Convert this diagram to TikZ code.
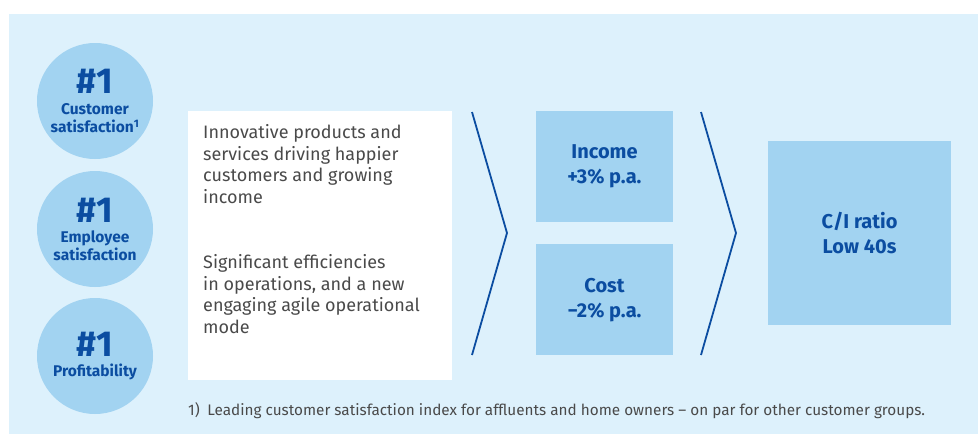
\documentclass[tikz,border=0pt]{standalone}
\usepackage{fontspec}
\setmainfont{Fira Sans}
\usepackage{xcolor}
\usetikzlibrary{positioning}
\definecolor{bgblue}{HTML}{DDF1FC}
\definecolor{midblue}{HTML}{A2D3F1}
\definecolor{darkblue}{HTML}{0B4DA1}
\definecolor{bodygray}{HTML}{4A4A4A}

\begin{document}
\begin{tikzpicture}[
    x=1pt, y=-1pt,
    node distance=11pt,
    goal/.style={circle, fill=midblue, minimum size=116pt, inner sep=0pt, align=center, text=darkblue, font=\fontsize{15.5}{18}\selectfont\bfseries},
    kpi/.style={rectangle, fill=midblue, inner sep=0pt, align=center, text=darkblue, font=\fontsize{20}{25}\selectfont\bfseries},
    lever/.style={inner sep=0pt, align=left, anchor=base west, text=bodygray, font=\fontsize{18}{21.5}\selectfont},
    chev/.style={draw=darkblue, line width=1.8pt},
]
    \useasboundingbox (0,0) rectangle (978,434);
    \fill[bgblue] (9,14) rectangle (978,434);

    \node[goal] (cust) at (95,101) {{\fontsize{36}{32}\selectfont\#1}\\[3pt]Customer\\satisfaction\textsuperscript{1}};
    \node[goal] (empl) at (95,229) {{\fontsize{36}{32}\selectfont\#1}\\[2pt]Employee\\satisfaction};
    \node[goal] (prof) at (95,356) {{\fontsize{36}{32}\selectfont\#1}\\[2pt]Profitability};

    \node[fill=white, minimum width=264pt, minimum height=269pt, inner sep=0pt, anchor=north west] (levers) at (188,111) {};
    \node[lever] (growth) at (203,203) {Innovative products and\\services driving happier\\customers and growing\\income};
    \node[lever] (effic) at (203,333) {Significant efficiencies\\in operations, and a new\\engaging agile operational\\mode};

    \draw[chev] (472,112) -- (507,233) -- (472,355);

    \node[kpi, minimum width=137pt, minimum height=111pt] (income) at (604.5,166.5) {Income\\+3\% p.a.};
    \node[kpi, minimum width=137pt, minimum height=111pt, below=22pt of income] (cost) {Cost\\−2\% p.a.};

    \draw[chev] (701,112) -- (736,233) -- (701,355);

    \node[kpi, minimum width=183pt, minimum height=184pt] (ratio) at (859.5,233) {C/I ratio\\Low 40s};

    \node[anchor=base west, inner sep=0pt, text=bodygray, font=\fontsize{15.3}{18}\selectfont] (note) at (188,415) {1)\enspace Leading customer satisfaction index for affluents and home owners – on par for other customer groups.};
\end{tikzpicture}
\end{document}
